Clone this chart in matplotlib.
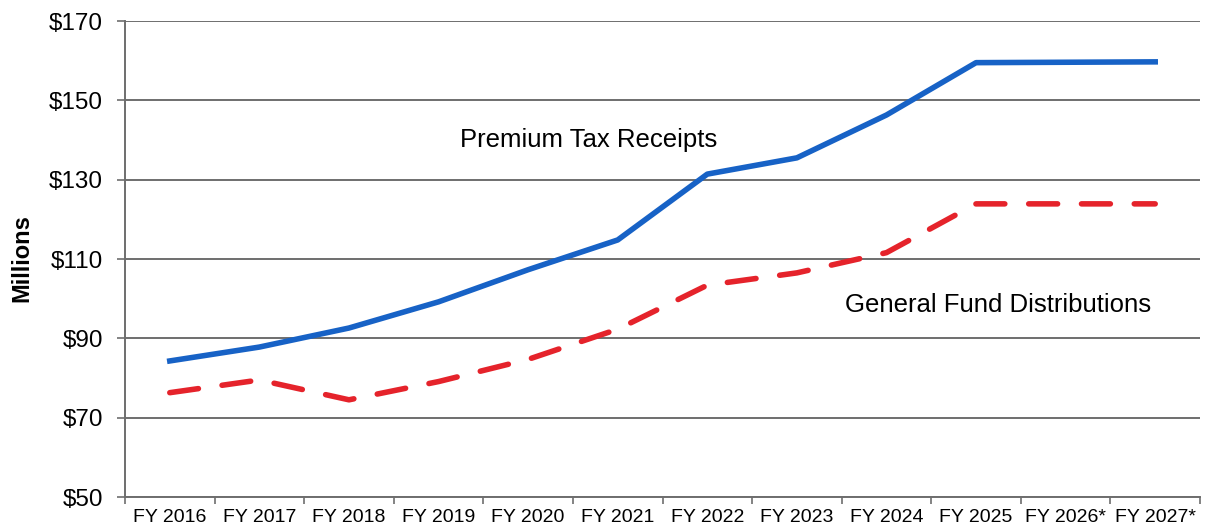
import matplotlib
matplotlib.use("Agg")
import matplotlib.pyplot as plt

plt.rcParams['font.family'] = ['Liberation Sans', 'DejaVu Sans']

categories = ["FY 2016", "FY 2017", "FY 2018", "FY 2019", "FY 2020", "FY 2021",
              "FY 2022", "FY 2023", "FY 2024", "FY 2025", "FY 2026*", "FY 2027*"]
premium_tax = [84.3, 87.8, 92.6, 99.2, 107.3, 114.8, 131.4, 135.5, 146.3, 159.5, 159.6, 159.7]
general_fund = [76.3, 79.5, 74.5, 79.1, 84.7, 92.3, 103.4, 106.5, 111.6, 123.9, 123.9, 123.9]
y_ticks = [50, 70, 90, 110, 130, 150, 170]
y_labels = ["$50", "$70", "$90", "$110", "$130", "$150", "$170"]

fig = plt.figure(figsize=(12.06, 5.31), dpi=100)
ax = fig.add_axes([125/1206, 34/531, 1075/1206, 476/531])

x = list(range(len(categories)))
ax.plot(x, premium_tax, color='#1762c6', lw=4.0, solid_joinstyle='round', zorder=3)
ax.plot(x, general_fund, color='#e5232b', lw=4.0, dashes=(5.2, 4.3),
        dash_capstyle='round', zorder=3)

ax.set_xlim(-0.5, len(categories) - 0.5)
ax.set_ylim(50, 170)
ax.set_yticks(y_ticks)
ax.set_yticklabels(y_labels, fontsize=17.5)
ax.yaxis.grid(True, color='#6e6e6e', lw=1.4)
ax.set_axisbelow(True)

# category boundaries as major ticks, labels at minor (centers)
ax.set_xticks([i - 0.5 for i in range(len(categories) + 1)])
ax.set_xticklabels([])
ax.set_xticks(x, minor=True)
ax.set_xticklabels(categories, minor=True, fontsize=14)
ax.tick_params(axis='x', which='minor', length=0, pad=9)
ax.tick_params(axis='x', which='major', length=5, color='#6e6e6e', width=1.2)
ax.tick_params(axis='y', length=6, color='#6e6e6e', width=1.2, pad=10)

for s in ['top', 'right']:
    ax.spines[s].set_visible(False)
for s in ['left', 'bottom']:
    ax.spines[s].set_color('#6e6e6e')
    ax.spines[s].set_linewidth(1.4)

ax.text(3.24, 140, "Premium Tax Receipts", fontsize=18.5, va='center', ha='left')
ax.text(7.54, 98.4, "General Fund Distributions", fontsize=18.5, va='center', ha='left')

fig.text(22/1206, 1 - 258/531, "Millions", rotation=90, fontsize=17, fontweight='bold',
         va='center', ha='center')

fig.savefig("out.png", dpi=100)
